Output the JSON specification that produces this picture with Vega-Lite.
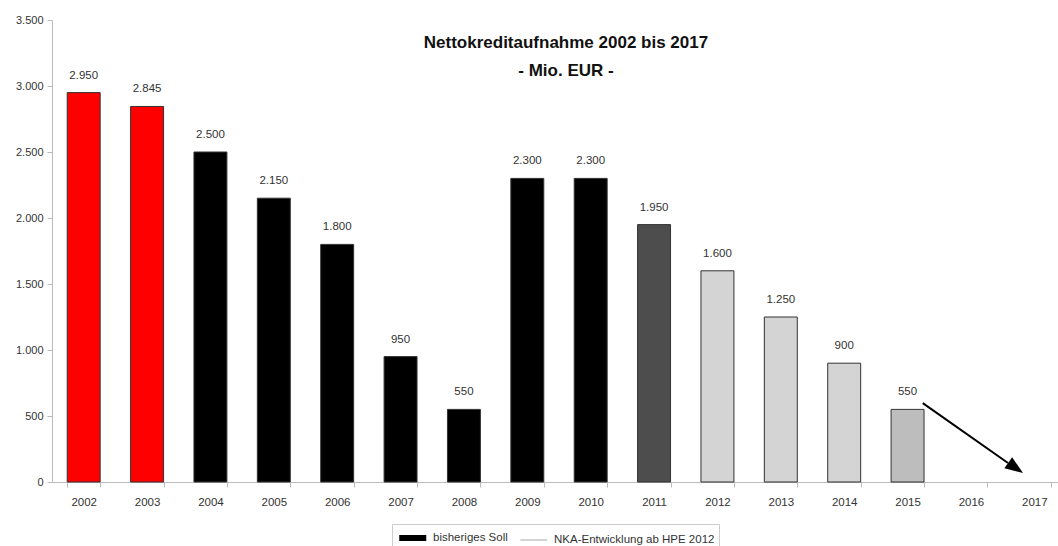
{
  "$schema": "https://vega.github.io/schema/vega-lite/v6.json",
  "width": 1006,
  "height": 462,
  "autosize": {"type": "none"},
  "padding": {"left": 52, "top": 20, "right": 0, "bottom": 64},
  "background": "white",
  "config": {
    "font": "Liberation Sans",
    "view": {"stroke": null},
    "locale": {"number": {"decimal": ",", "thousands": ".", "grouping": [3], "currency": ["", " €"]}}
  },
  "title": {
    "text": ["Nettokreditaufnahme 2002 bis 2017", "- Mio. EUR -"],
    "orient": "top",
    "anchor": "middle",
    "frame": "group",
    "offset": -66,
    "dx": 11,
    "lineHeight": 28,
    "fontSize": 17,
    "fontWeight": "bold",
    "color": "#111"
  },
  "datasets": {
    "nka": [
      {"Jahr": "2002", "Mio": 2950, "Phase": "Ist"},
      {"Jahr": "2003", "Mio": 2845, "Phase": "Ist"},
      {"Jahr": "2004", "Mio": 2500, "Phase": "bisheriges Soll"},
      {"Jahr": "2005", "Mio": 2150, "Phase": "bisheriges Soll"},
      {"Jahr": "2006", "Mio": 1800, "Phase": "bisheriges Soll"},
      {"Jahr": "2007", "Mio": 950, "Phase": "bisheriges Soll"},
      {"Jahr": "2008", "Mio": 550, "Phase": "bisheriges Soll"},
      {"Jahr": "2009", "Mio": 2300, "Phase": "bisheriges Soll"},
      {"Jahr": "2010", "Mio": 2300, "Phase": "bisheriges Soll"},
      {"Jahr": "2011", "Mio": 1950, "Phase": "HPE 2011"},
      {"Jahr": "2012", "Mio": 1600, "Phase": "NKA-Entwicklung"},
      {"Jahr": "2013", "Mio": 1250, "Phase": "NKA-Entwicklung"},
      {"Jahr": "2014", "Mio": 900, "Phase": "NKA-Entwicklung"},
      {"Jahr": "2015", "Mio": 550, "Phase": "Ziel 2015"}
    ],
    "arrow": [
      {"Pos": 2015.24, "Mio": 598},
      {"Pos": 2016.585, "Mio": 144}
    ],
    "head": [
      {"Pos": 2016.705, "Mio": 107}
    ],
    "legende": [
      {"Reihe": "bisheriges Soll"},
      {"Reihe": "NKA-Entwicklung ab HPE 2012"}
    ]
  },
  "layer": [
    {
      "data": {"name": "nka"},
      "mark": {"type": "bar", "stroke": "#333", "strokeWidth": 1},
      "encoding": {
        "x": {
          "field": "Jahr", "type": "ordinal",
          "scale": {"domain": ["2002","2003","2004","2005","2006","2007","2008","2009","2010","2011","2012","2013","2014","2015","2016","2017"], "range": [0, 1014], "paddingInner": 0.48, "paddingOuter": 0.24},
          "axis": {"title": null, "tickBand": "extent", "domainColor": "#bbb", "tickColor": "#bbb", "tickSize": 5, "labelFontSize": 11.5, "labelAngle": 0, "labelPadding": 9, "labelColor": "#333"}
        },
        "y": {
          "field": "Mio", "type": "quantitative",
          "scale": {"domain": [0, 3500]},
          "axis": {"title": null, "values": [0,500,1000,1500,2000,2500,3000,3500], "format": ",d", "grid": false, "domainColor": "#bbb", "tickColor": "#bbb", "tickSize": 5, "labelFontSize": 11, "labelColor": "#333", "labelPadding": 4}
        },
        "color": {
          "field": "Phase", "type": "nominal",
          "scale": {"domain": ["Ist", "bisheriges Soll", "HPE 2011", "NKA-Entwicklung", "Ziel 2015"], "range": ["#ff0000", "#000000", "#4d4d4d", "#d4d4d4", "#bdbdbd"]},
          "legend": null
        }
      }
    },
    {
      "data": {"name": "nka"},
      "mark": {"type": "text", "baseline": "middle", "dy": -17, "fontSize": 11.5, "color": "#333"},
      "encoding": {
        "x": {
          "field": "Jahr", "type": "ordinal",
          "scale": {"domain": ["2002","2003","2004","2005","2006","2007","2008","2009","2010","2011","2012","2013","2014","2015","2016","2017"], "range": [0, 1014], "paddingInner": 0.48, "paddingOuter": 0.24},
          "axis": null
        },
        "y": {"field": "Mio", "type": "quantitative"},
        "text": {"field": "Mio", "type": "quantitative", "format": ",d"}
      }
    },
    {
      "data": {"name": "arrow"},
      "mark": {"type": "line", "color": "#000", "strokeWidth": 2},
      "encoding": {
        "x": {"field": "Pos", "type": "quantitative", "scale": {"domain": [2001.5, 2017.5], "range": [0, 1014], "nice": false, "zero": false}, "axis": null},
        "y": {"field": "Mio", "type": "quantitative"}
      }
    },
    {
      "data": {"name": "head"},
      "mark": {"type": "point", "shape": "M1,0L-1,-0.75L-1,0.75Z", "size": 324, "angle": 35, "filled": true, "color": "#000", "opacity": 1},
      "encoding": {
        "x": {"field": "Pos", "type": "quantitative", "scale": {"domain": [2001.5, 2017.5], "range": [0, 1014], "nice": false, "zero": false}, "axis": null},
        "y": {"field": "Mio", "type": "quantitative"}
      }
    },
    {
      "data": {"name": "legende"},
      "mark": {"type": "point", "filled": false, "opacity": 0, "size": 182.25},
      "encoding": {
        "stroke": {
          "field": "Reihe", "type": "nominal",
          "scale": {"domain": ["bisheriges Soll", "NKA-Entwicklung ab HPE 2012"], "range": ["#000000", "#aaaaaa"]},
          "legend": {"orient": "none", "legendX": 340, "legendY": 504, "direction": "horizontal", "columns": 2, "title": null, "strokeColor": "#ccc", "padding": 4, "labelFontSize": 11.5, "labelColor": "#333", "symbolOpacity": 1, "symbolSize": 182.25, "columnPadding": 9, "labelOffset": 17, "labelLimit": 300, "symbolFillColor": "transparent"}
        },
        "strokeWidth": {
          "field": "Reihe", "type": "nominal",
          "scale": {"domain": ["bisheriges Soll", "NKA-Entwicklung ab HPE 2012"], "range": [6, 1]}
        },
        "shape": {
          "field": "Reihe", "type": "nominal",
          "scale": {"domain": ["bisheriges Soll", "NKA-Entwicklung ab HPE 2012"], "range": ["M-1,0H3", "M-1,0H3"]}
        }
      }
    }
  ],
  "resolve": {"scale": {"x": "independent"}}
}
